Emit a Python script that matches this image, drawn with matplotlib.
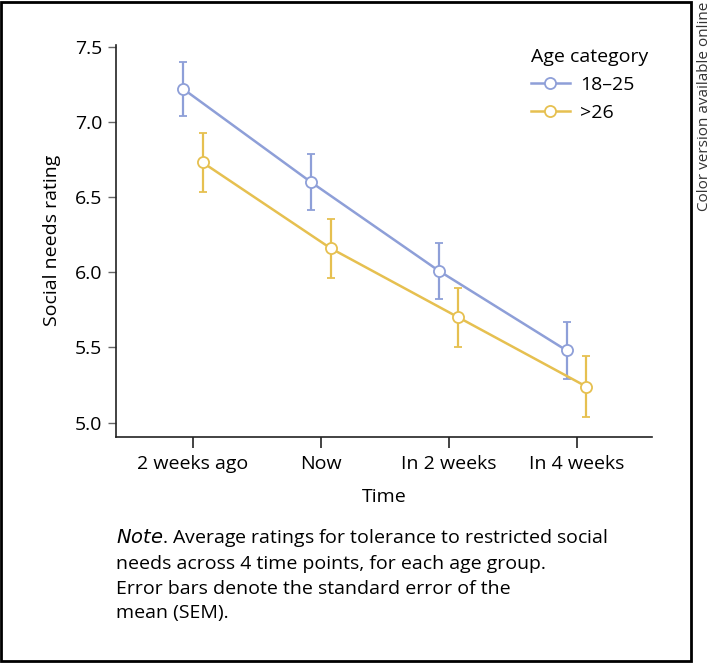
import numpy as np
import matplotlib.pyplot as plt

plt.rcParams['font.family'] = ['Open Sans', 'DejaVu Sans']

# Data
time_points = ["2 weeks ago", "Now", "In 2 weeks", "In 4 weeks"]
young_mean = [7.22, 6.60, 6.01, 5.48]
young_sem = [0.18, 0.185, 0.185, 0.19]
older_mean = [6.73, 6.16, 5.70, 5.24]
older_sem = [0.195, 0.195, 0.195, 0.205]
groups = ["18\u201325", ">26"]

blue = "#8e9fd8"
yellow = "#e6c050"

fig = plt.figure(figsize=(7.10, 6.64), dpi=100)
ax = fig.add_axes([116 / 710, 1 - 437 / 664, (652 - 116) / 710, (437 - 44.5) / 664])

x = np.arange(len(time_points))
dodge = 0.077
for means, sems, col, lab, off in [(young_mean, young_sem, blue, groups[0], -dodge),
                                   (older_mean, older_sem, yellow, groups[1], dodge)]:
    ax.errorbar(x + off, means, yerr=sems, color=col, lw=1.8, elinewidth=1.6,
                capsize=3, capthick=1.6, marker="o", markersize=8,
                markerfacecolor="white", markeredgecolor=col, markeredgewidth=1.3,
                label=lab)

ax.set_xlim(-0.6, 3.59)
ax.set_ylim(4.905, 7.514)
ax.set_yticks([5.0, 5.5, 6.0, 6.5, 7.0, 7.5])
ax.set_yticklabels(["5.0", "5.5", "6.0", "6.5", "7.0", "7.5"])
ax.set_xticks(x)
ax.set_xticklabels(time_points)
ax.spines["top"].set_visible(False)
ax.spines["right"].set_visible(False)
for s in ["left", "bottom"]:
    ax.spines[s].set_linewidth(1.2)
    ax.spines[s].set_color("#222222")
ax.tick_params(axis="y", labelsize=14, length=6, width=1, color="#666666", pad=4)
ax.tick_params(axis="x", labelsize=14, length=8, width=1.2, color="#222222", pad=5)
ax.set_ylabel("Social needs rating", fontsize=14, labelpad=10)
ax.set_xlabel("Time", fontsize=14, labelpad=11)

handles, labels = ax.get_legend_handles_labels()
handles = [h[0] for h in handles]
leg = ax.legend(handles, labels, title="Age category", loc="upper left",
                bbox_to_anchor=(0.774, 0.99), frameon=False, fontsize=14,
                title_fontsize=14, handlelength=2.0, handletextpad=0.55,
                labelspacing=0.5, alignment="left", borderaxespad=0,
                borderpad=0)

note = ("$\\it{Note}$. Average ratings for tolerance to restricted social\n"
        "needs across 4 time points, for each age group.\n"
        "Error bars denote the standard error of the\n"
        "mean (SEM).")
fig.text(116 / 710, 1 - 527 / 664, note, fontsize=14, va="top", ha="left",
         linespacing=1.45)

fig.text(704 / 710, 1 - 106 / 664, "Color version available online", rotation=90,
         fontsize=11, va="center", ha="center", color="#333333")

# frame
fig.add_artist(plt.Rectangle((1 / 710, 3 / 664), 690 / 710, 659 / 664,
                             transform=fig.transFigure, fill=False,
                             edgecolor="black", lw=2))

fig.savefig("out.png", dpi=100)
